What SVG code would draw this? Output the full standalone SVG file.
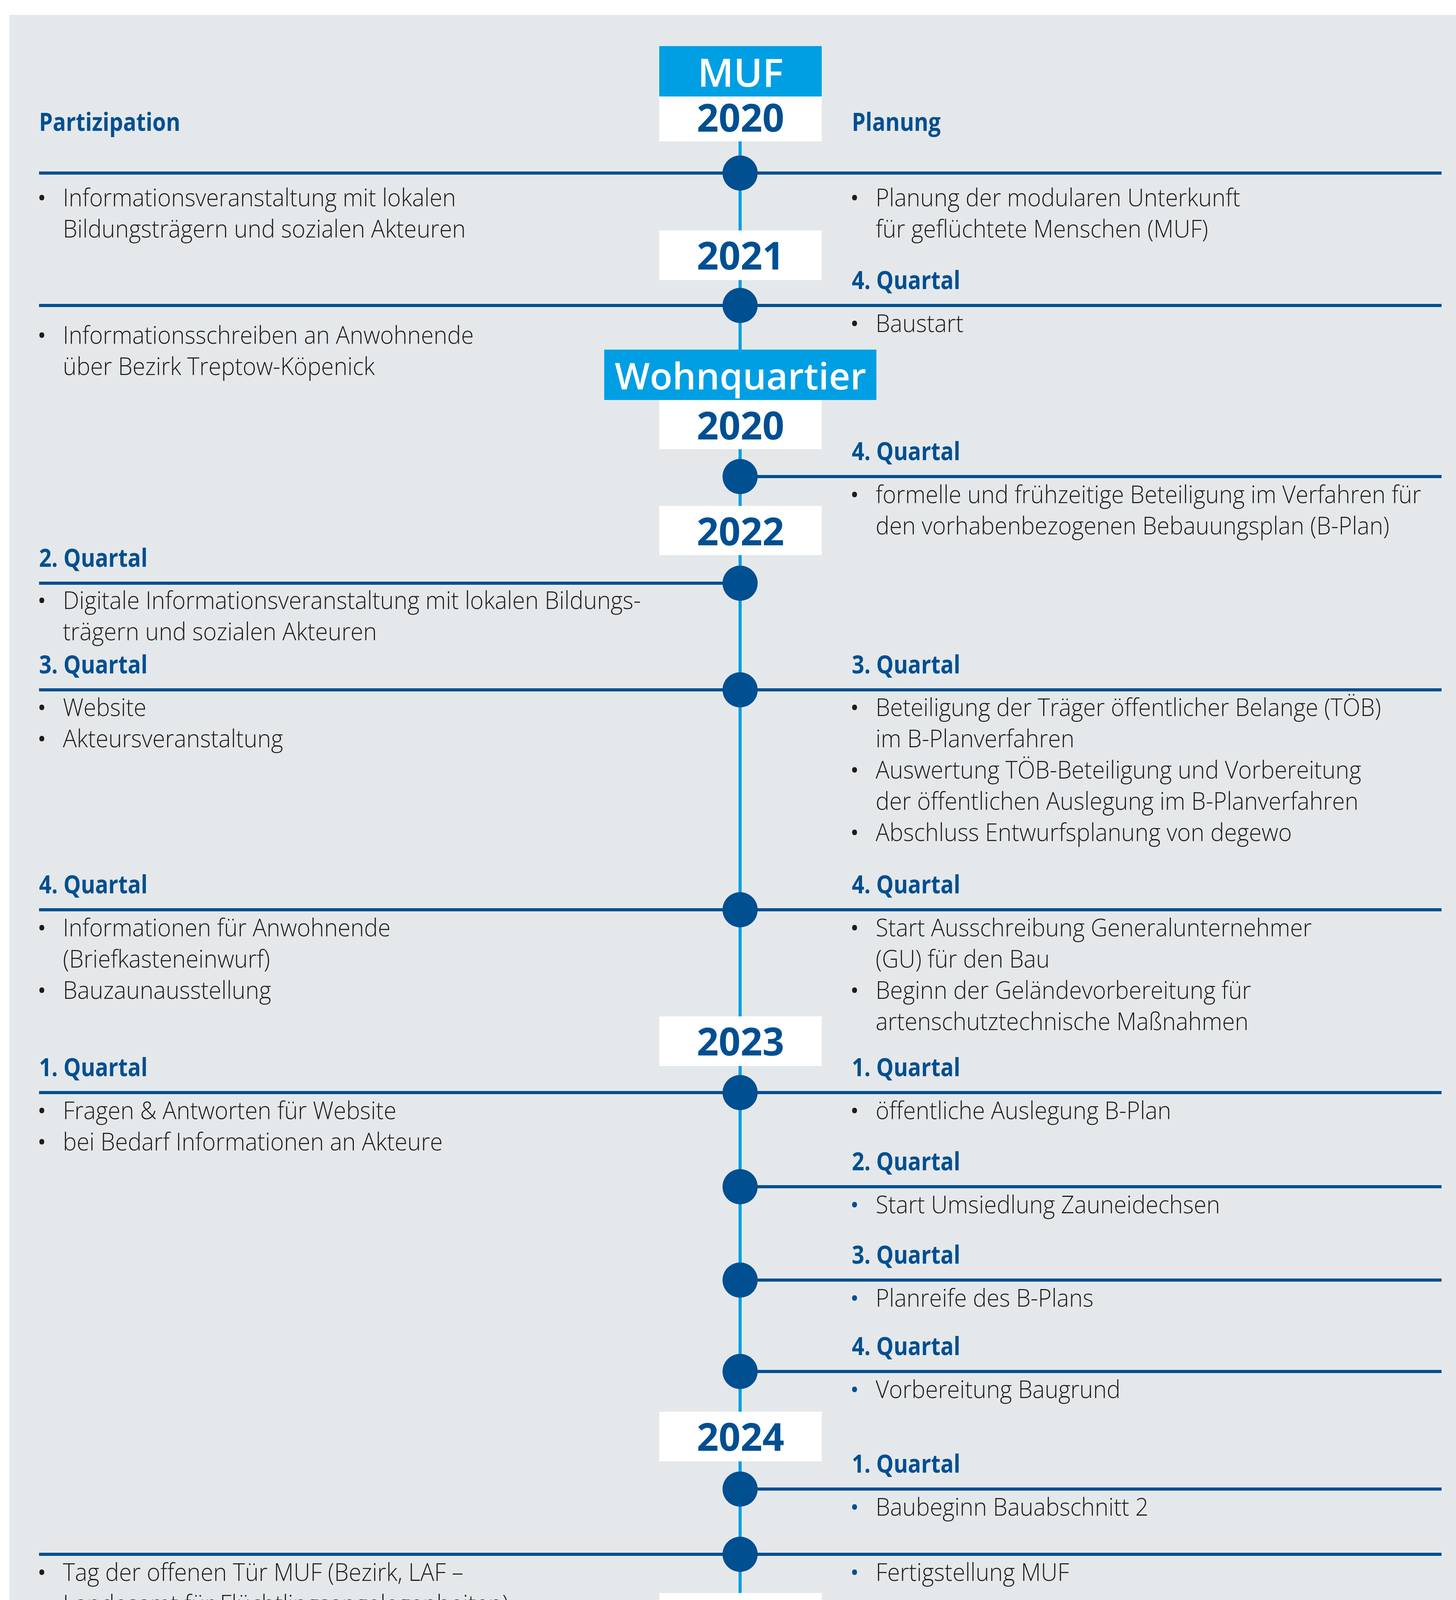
<svg xmlns="http://www.w3.org/2000/svg" width="3728" height="6221" viewBox="0 0 3728 6221">
<style>
.bg{fill:#e5e8ea}
.hl{stroke:#004f91;stroke-width:8;fill:none}
.vl{stroke:#009fe3;stroke-width:8;fill:none}
.vd{stroke:#009fe3;stroke-width:8;fill:none;stroke-linecap:round;stroke-dasharray:0 24.5}
.c{fill:#004f91}
.box{fill:#ffffff}
.bbox{fill:#009fe3}
text{font-family:"Open Sans","Liberation Sans",sans-serif}
.t{font-weight:300;font-size:63px;fill:#1d1d1b;transform-box:fill-box;transform-origin:0 0;transform:scaleX(0.94)}
.h{font-weight:700;font-size:65px;fill:#004f91;transform-box:fill-box;transform-origin:0 0;transform:scaleX(0.86)}
.bu{font-weight:400;font-size:60px;fill:#1d1d1b;text-anchor:middle}
.bb{fill:#004f91}
.yr{font-weight:700;font-size:98px;fill:#004f91;text-anchor:middle}
.lbl{font-weight:600;font-size:100px;fill:#ffffff;text-anchor:middle}
.wq{font-size:95px}
</style>
<rect class="bg" x="24" y="38" width="3704" height="6183"/>

<g id="connectors">
<line class="vl" x1="1895" y1="362" x2="1895" y2="4564"/>
<line class="vd" x1="1895" y1="4628" x2="1895" y2="6162"/>
<rect x="1888" y="6173" width="15" height="10" fill="#009fe3"/>
<line class="hl" x1="100" y1="443" x2="3691" y2="443"/>
<line class="hl" x1="100" y1="782" x2="3691" y2="782"/>
<line class="hl" x1="1895" y1="1220" x2="3691" y2="1220"/>
<line class="hl" x1="100" y1="1493" x2="1895" y2="1493"/>
<line class="hl" x1="100" y1="1766" x2="3691" y2="1766"/>
<line class="hl" x1="100" y1="2329" x2="3691" y2="2329"/>
<line class="hl" x1="100" y1="2797" x2="3691" y2="2797"/>
<line class="hl" x1="1895" y1="3038" x2="3691" y2="3038"/>
<line class="hl" x1="1895" y1="3277" x2="3691" y2="3277"/>
<line class="hl" x1="1895" y1="3511" x2="3691" y2="3511"/>
<line class="hl" x1="1895" y1="3812" x2="3691" y2="3812"/>
<line class="hl" x1="100" y1="3979" x2="3691" y2="3979"/>
<line class="hl" x1="1895" y1="4279" x2="3691" y2="4279"/>
<line class="hl" x1="1895" y1="4564" x2="3691" y2="4564"/>
<line class="hl" x1="1895" y1="4844" x2="3691" y2="4844"/>
<line class="hl" x1="1895" y1="5177" x2="3691" y2="5177"/>
<line class="hl" x1="1895" y1="5470" x2="3691" y2="5470"/>
<line class="hl" x1="1895" y1="5756" x2="3691" y2="5756"/>
<line class="hl" x1="100" y1="6060" x2="1895" y2="6060"/>
</g>

<g id="headers">
<text class="h" x="100" y="335">Partizipation</text>
<text class="h" x="2181" y="335">Planung</text>
</g>

<g id="year-muf-2020">
<rect class="bbox" x="1688" y="118" width="416" height="129"/>
<text class="lbl" x="1896" y="222">MUF</text>
<rect class="box" x="1688" y="247" width="416" height="115"/>
<text class="yr" x="1896" y="337">2020</text>
</g>

<g id="m1">
<circle class="c" cx="1895" cy="443" r="45"/>
<text class="bu" x="107" y="528">•</text>
<text class="t" x="161" y="528">Informationsveranstaltung mit lokalen</text>
<text class="t" x="161" y="608">Bildungsträgern und sozialen Akteuren</text>
<text class="bu" x="2188" y="528">•</text>
<text class="t" x="2242" y="528">Planung der modularen Unterkunft</text>
<text class="t" x="2242" y="608">für geflüchtete Menschen (MUF)</text>
</g>

<g id="year-2021">
<rect class="box" x="1688" y="590" width="416" height="127"/>
<text class="yr" x="1896" y="690">2021</text>
</g>

<g id="m2">
<circle class="c" cx="1895" cy="782" r="45"/>
<text class="h" x="2181" y="740">4. Quartal</text>
<text class="bu" x="2188" y="850">•</text>
<text class="t" x="2242" y="850">Baustart</text>
<text class="bu" x="107" y="880">•</text>
<text class="t" x="161" y="880">Informationsschreiben an Anwohnende</text>
<text class="t" x="161" y="960">über Bezirk Treptow-Köpenick</text>
</g>

<g id="year-wohnquartier-2020">
<rect class="bbox" x="1547" y="895" width="697" height="129"/>
<text class="lbl wq" x="1896" y="997">Wohnquartier</text>
<rect class="box" x="1688" y="1024" width="416" height="126"/>
<text class="yr" x="1896" y="1125">2020</text>
</g>

<g id="m3">
<circle class="c" cx="1895" cy="1220" r="45"/>
<text class="h" x="2181" y="1178">4. Quartal</text>
<text class="bu" x="2188" y="1288">•</text>
<text class="t" x="2242" y="1288">formelle und frühzeitige Beteiligung im Verfahren für</text>
<text class="t" x="2242" y="1368">den vorhabenbezogenen Bebauungsplan (B-Plan)</text>
</g>

<g id="year-2022">
<rect class="box" x="1688" y="1295" width="416" height="126"/>
<text class="yr" x="1896" y="1396">2022</text>
</g>

<g id="m4">
<circle class="c" cx="1895" cy="1493" r="45"/>
<text class="h" x="100" y="1451">2. Quartal</text>
<text class="bu" x="107" y="1559">•</text>
<text class="t" x="161" y="1559">Digitale Informationsveranstaltung mit lokalen Bildungs-</text>
<text class="t" x="161" y="1639">trägern und sozialen Akteuren</text>
</g>

<g id="m5">
<circle class="c" cx="1895" cy="1766" r="45"/>
<text class="h" x="100" y="1724">3. Quartal</text>
<text class="bu" x="107" y="1833">•</text>
<text class="t" x="161" y="1833">Website</text>
<text class="bu" x="107" y="1913">•</text>
<text class="t" x="161" y="1913">Akteursveranstaltung</text>
<text class="h" x="2181" y="1724">3. Quartal</text>
<text class="bu" x="2188" y="1833">•</text>
<text class="t" x="2242" y="1833">Beteiligung der Träger öffentlicher Belange (TÖB)</text>
<text class="t" x="2242" y="1913">im B-Planverfahren</text>
<text class="bu" x="2188" y="1993">•</text>
<text class="t" x="2242" y="1993">Auswertung TÖB-Beteiligung und Vorbereitung</text>
<text class="t" x="2242" y="2073">der öffentlichen Auslegung im B-Planverfahren</text>
<text class="bu" x="2188" y="2153">•</text>
<text class="t" x="2242" y="2153">Abschluss Entwurfsplanung von degewo</text>
</g>

<g id="m6">
<circle class="c" cx="1895" cy="2329" r="45"/>
<text class="h" x="100" y="2287">4. Quartal</text>
<text class="bu" x="107" y="2397">•</text>
<text class="t" x="161" y="2397">Informationen für Anwohnende</text>
<text class="t" x="161" y="2477">(Briefkasteneinwurf)</text>
<text class="bu" x="107" y="2557">•</text>
<text class="t" x="161" y="2557">Bauzaunausstellung</text>
<text class="h" x="2181" y="2287">4. Quartal</text>
<text class="bu" x="2188" y="2397">•</text>
<text class="t" x="2242" y="2397">Start Ausschreibung Generalunternehmer</text>
<text class="t" x="2242" y="2477">(GU) für den Bau</text>
<text class="bu" x="2188" y="2557">•</text>
<text class="t" x="2242" y="2557">Beginn der Geländevorbereitung für</text>
<text class="t" x="2242" y="2637">artenschutztechnische Maßnahmen</text>
</g>

<g id="year-2023">
<rect class="box" x="1688" y="2602" width="416" height="127"/>
<text class="yr" x="1896" y="2702">2023</text>
</g>

<g id="m7">
<circle class="c" cx="1895" cy="2797" r="45"/>
<text class="h" x="100" y="2755">1. Quartal</text>
<text class="bu" x="107" y="2865">•</text>
<text class="t" x="161" y="2865">Fragen &amp; Antworten für Website</text>
<text class="bu" x="107" y="2945">•</text>
<text class="t" x="161" y="2945">bei Bedarf Informationen an Akteure</text>
<text class="h" x="2181" y="2755">1. Quartal</text>
<text class="bu" x="2188" y="2865">•</text>
<text class="t" x="2242" y="2865">öffentliche Auslegung B-Plan</text>
</g>

<g id="m8">
<circle class="c" cx="1895" cy="3038" r="45"/>
<text class="h" x="2181" y="2996">2. Quartal</text>
<text class="bu bb" x="2188" y="3106">•</text>
<text class="t" x="2242" y="3106">Start Umsiedlung Zauneidechsen</text>
</g>

<g id="m9">
<circle class="c" cx="1895" cy="3277" r="45"/>
<text class="h" x="2181" y="3235">3. Quartal</text>
<text class="bu bb" x="2188" y="3345">•</text>
<text class="t" x="2242" y="3345">Planreife des B-Plans</text>
</g>

<g id="m10">
<circle class="c" cx="1895" cy="3511" r="45"/>
<text class="h" x="2181" y="3469">4. Quartal</text>
<text class="bu bb" x="2188" y="3579">•</text>
<text class="t" x="2242" y="3579">Vorbereitung Baugrund</text>
</g>

<g id="year-2024">
<rect class="box" x="1688" y="3614" width="416" height="127"/>
<text class="yr" x="1896" y="3714">2024</text>
</g>

<g id="m11">
<circle class="c" cx="1895" cy="3812" r="45"/>
<text class="h" x="2181" y="3770">1. Quartal</text>
<text class="bu bb" x="2188" y="3880">•</text>
<text class="t" x="2242" y="3880">Baubeginn Bauabschnitt 2</text>
</g>

<g id="m12">
<circle class="c" cx="1895" cy="3979" r="45"/>
<text class="bu" x="107" y="4047">•</text>
<text class="t" x="161" y="4047">Tag der offenen Tür MUF (Bezirk, LAF –</text>
<text class="t" x="161" y="4128">Landesamt für Flüchtlingsangelegenheiten)</text>
<text class="bu" x="107" y="4208">•</text>
<text class="t" x="161" y="4208">Flyer Quartiersentwicklung</text>
<text class="bu" x="107" y="4288">•</text>
<text class="t" x="161" y="4288">Informationen für Anwohnende</text>
<text class="t" x="161" y="4369">(Briefkasteneinwurf)</text>
<text class="bu" x="107" y="4447">•</text>
<text class="t" x="161" y="4447">bei Bedarf Informationen</text>
<text class="bu bb" x="2188" y="4047">•</text>
<text class="t" x="2242" y="4047">Fertigstellung MUF</text>
</g>

<g id="year-2026">
<rect class="box" x="1688" y="4078" width="416" height="129"/>
<text class="yr" x="1896" y="4180">2026</text>
</g>

<g id="m13">
<circle class="c" cx="1895" cy="4279" r="45"/>
<text class="h" x="2181" y="4237">1. Quartal</text>
<text class="bu" x="2188" y="4347">•</text>
<text class="t" x="2242" y="4347">Erste Baufertigstellung regulärer</text>
<text class="t" x="2242" y="4427">Mietwohnungen und Vermietung</text>
</g>

<g id="m14">
<circle class="c" cx="1895" cy="4564" r="45"/>
<text class="h" x="2181" y="4522">3. Quartal</text>
<text class="bu bb" x="2188" y="4632">•</text>
<text class="t" x="2242" y="4632">Weitere Fertigstellung von Wohnungen,</text>
<text class="t" x="2242" y="4712">danach Vermietung</text>
</g>

<g id="m15">
<circle class="c" cx="1895" cy="4844" r="45"/>
<text class="h" x="2181" y="4802">4. Quartal</text>
<text class="bu" x="2188" y="4912">•</text>
<text class="t" x="2242" y="4912">Weitere Fertigstellung von Wohnungen,</text>
<text class="t" x="2242" y="4992">danach Vermietung</text>
</g>

<g id="year-2027">
<rect class="box" x="1688" y="4983" width="416" height="127"/>
<text class="yr" x="1896" y="5083">2027</text>
</g>

<g id="m16">
<circle class="c" cx="1895" cy="5177" r="45"/>
<text class="h" x="2181" y="5135">1. Quartal</text>
<text class="bu" x="2188" y="5245">•</text>
<text class="t" x="2242" y="5245">Voraussichtlicher Start Kita-Betrieb (Haus I)</text>
<text class="t" x="2242" y="5325">und Einzug sozialer Träger (Haus J)</text>
</g>

<g id="m17">
<circle class="c" cx="1895" cy="5470" r="45"/>
<text class="h" x="2181" y="5428">3. Quartal</text>
<text class="bu" x="2188" y="5538">•</text>
<text class="t" x="2242" y="5538">Abschließende Fertigstellung von Wohnungen</text>
<text class="t" x="2242" y="5618">und Gewerbeflächen, danach Vermietung</text>
</g>

<g id="m18">
<circle class="c" cx="1895" cy="5756" r="45"/>
<text class="h" x="2181" y="5714">4. Quartal</text>
<text class="bu" x="2188" y="5824">•</text>
<text class="t" x="2242" y="5824">Einzug sozialer Träger (Haus K)</text>
<text class="bu" x="2188" y="5904">•</text>
<text class="t" x="2242" y="5904">Fertigstellung Außenraum mit Grünzug</text>
<text class="t" x="2242" y="5984">und Quartiersplatz</text>
</g>

<g id="year-2028">
<rect class="box" x="1688" y="5862" width="416" height="128"/>
<text class="yr" x="1896" y="5962">2028</text>
</g>

<g id="m19">
<circle class="c" cx="1895" cy="6060" r="45"/>
<text class="h" x="100" y="6018">2./3. Quartal</text>
<text class="bu" x="107" y="6128">•</text>
<text class="t" x="161" y="6128">Nachbarschaftsfest/Vorstellung des Quartiers der Vielfalt</text>
</g>
</svg>
